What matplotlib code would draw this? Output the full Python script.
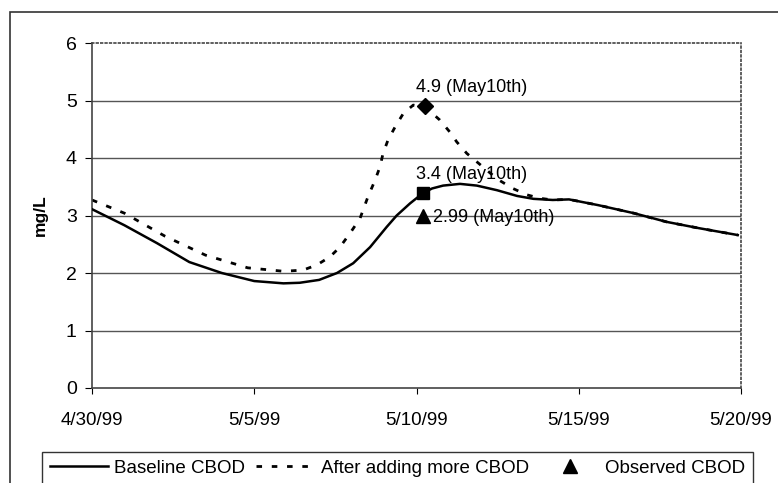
import matplotlib.pyplot as plt
from matplotlib.patches import Rectangle
from matplotlib.lines import Line2D

plt.rcParams['font.family'] = ['Liberation Sans', 'DejaVu Sans']

# days after 4/30/99
base_days = [0, 1, 2, 3, 4, 5, 5.9, 6.4, 7.0, 7.55, 8.05, 8.57, 9.08, 9.39, 9.8, 10.2,
             10.48, 10.82, 11.34, 11.86, 12.48, 13.1, 13.6, 14.2, 14.7, 15.6, 16.7,
             17.7, 18.7, 19.9]
base_cbod = [3.11, 2.83, 2.52, 2.19, 2.0, 1.86, 1.82, 1.83, 1.88, 2.0, 2.17, 2.45, 2.8,
             3.0, 3.21, 3.39, 3.47, 3.52, 3.55, 3.52, 3.44, 3.34, 3.29, 3.27, 3.28,
             3.18, 3.04, 2.89, 2.78, 2.66]

more_days = [0, 1, 2.25, 3.5, 4.8, 5.9, 6.5, 6.93, 7.33, 7.64, 7.95, 8.26, 8.5, 8.72,
             8.87, 8.97, 9.12, 9.34, 9.6, 9.9, 10.26, 10.72, 11.03, 11.24, 11.55, 12.5,
             12.97, 13.4, 13.8, 14.2, 14.7, 15.6, 16.7, 17.7, 18.7, 19.9]
more_cbod = [3.27, 3.04, 2.64, 2.31, 2.09, 2.03, 2.05, 2.14, 2.28, 2.45, 2.69, 2.95, 3.32,
             3.61, 3.84, 4.08, 4.31, 4.54, 4.78, 4.92, 4.89, 4.66, 4.45, 4.28, 4.08, 3.63,
             3.47, 3.36, 3.3, 3.27, 3.28, 3.18, 3.04, 2.89, 2.78, 2.66]

obs_day = 10.2
obs_cbod = 2.99
base_mark = (10.2, 3.4)
more_mark = (10.26, 4.9)

tick_days = [0, 5, 10, 15, 20]
tick_labels = ['4/30/99', '5/5/99', '5/10/99', '5/15/99', '5/20/99']

fig = plt.figure(figsize=(7.78, 4.83), dpi=100)

# outer chart frame (runs off the right and bottom edges like the scan)
fig.patches.append(Rectangle((10 / 778, -0.1), 1.2, 1 - 12 / 483 + 0.1, transform=fig.transFigure,
                             fill=False, edgecolor='#333333', linewidth=1.2))

ax = fig.add_axes([92 / 778, 95 / 483, 649 / 778, 345 / 483])
ax.set_xlim(0, 20)
ax.set_ylim(0, 6)

for yv in [1, 2, 3, 4, 5]:
    ax.axhline(yv, color='#555555', linewidth=1.0, zorder=1)

ax.plot(base_days, base_cbod, color='black', linewidth=1.8, zorder=3)
ax.plot(more_days, more_cbod, color='black', linewidth=2.0, linestyle=(0, (2, 3.5)), zorder=2)

ax.plot(*more_mark, marker='D', color='black', markersize=8, zorder=4)
ax.plot(*base_mark, marker='s', color='black', markersize=8, zorder=4)
ax.plot(obs_day, obs_cbod, marker='^', color='black', markersize=10, linestyle='none', zorder=4)

ax.text(10.0, 5.23, '4.9 (May10th)', fontsize=13, va='center')
ax.text(10.0, 3.72, '3.4 (May10th)', fontsize=13, va='center')
ax.text(10.5, 2.97, '2.99 (May10th)', fontsize=13, va='center')

ax.spines['top'].set_linestyle(':')
ax.spines['right'].set_linestyle(':')
ax.spines['bottom'].set_linestyle((0, (1, 1)))
for s in ax.spines.values():
    s.set_color('#444444')
    s.set_linewidth(1.2)

ax.set_xticks(tick_days)
ax.set_xticklabels(tick_labels, fontsize=13.5)
ax.set_yticks(range(7))
ax.tick_params(axis='y', labelsize=14, length=5, direction='out', pad=6)
ax.tick_params(axis='x', length=4, direction='out', pad=13)
ax.set_ylabel('mg/L', fontsize=12.5, fontweight='bold', labelpad=13)

# legend at the bottom, frame cut by the image edge
handles = [Line2D([], [], color='black', linewidth=1.8),
           Line2D([], [], color='black', linewidth=2.0, linestyle=(0, (2, 3.5))),
           Line2D([], [], color='black', marker='^', markersize=10, linestyle='none')]
labels = ['Baseline CBOD', 'After adding more CBOD', 'Observed CBOD']
leg = fig.legend(handles, labels, loc='upper left', bbox_to_anchor=(42 / 778, 1 - 452 / 483),
                 ncol=3, fontsize=13.5, frameon=True, fancybox=False, handlelength=3.1,
                 columnspacing=0.6, handletextpad=0.35, borderaxespad=0, borderpad=0.4)
leg.get_frame().set_edgecolor('black')
leg.get_frame().set_linewidth(1.0)

plt.savefig('out.png', dpi=100)
